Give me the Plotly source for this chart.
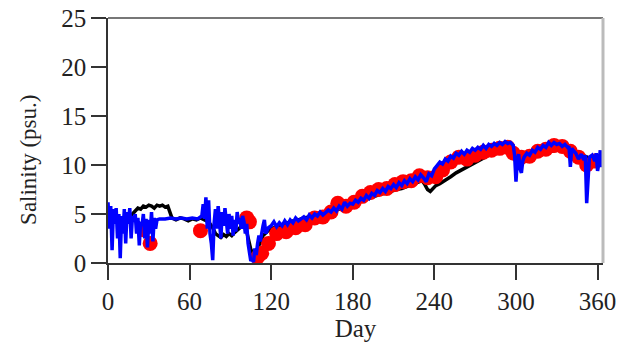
import plotly.graph_objects as go

# ---- Data ----
black_day = [0, 3, 6, 9, 12, 15, 18, 20, 22, 24, 26, 28, 30, 32, 34, 36, 38, 40, 42, 44, 45, 47,
             50, 53, 56, 59, 62, 65, 68, 71, 74, 77, 79, 81, 83, 85, 87, 89, 91, 93, 95, 97, 99, 101,
             103, 105, 107, 109, 111, 114, 117, 120, 124, 128, 132, 136, 140, 144, 148, 152, 156,
             160, 164, 168, 172, 176, 180, 184, 188, 192, 196, 200, 204, 208, 212, 216, 220, 224,
             228, 231, 233, 235, 237, 239, 241, 244, 248, 252, 256, 260, 264, 268, 272, 276, 280,
             284, 288, 292, 295, 298, 300, 302, 304, 307, 310, 314, 318, 322, 326, 330, 334, 338,
             342, 346, 350, 354, 358, 361, 364]
black_val = [5.0, 4.6, 4.8, 4.4, 4.7, 4.5, 5.0, 5.3, 5.6, 5.5, 5.8, 5.7, 5.9, 5.8, 5.6, 5.9, 5.8, 5.9, 5.7, 5.8, 5.3, 4.6,
             4.4, 4.6, 4.5, 4.3, 4.5, 4.4, 4.6, 4.4, 4.2, 3.6, 3.0, 2.8, 2.6, 2.9, 2.7, 3.0, 2.8, 3.1, 3.3, 3.6, 4.0, 3.8,
             2.6, 1.4, 0.8, 1.2, 1.8, 2.8, 3.2, 3.5, 3.7, 3.9, 4.1, 4.3, 4.4, 4.6, 4.7, 4.8, 4.9,
             5.1, 5.2, 5.4, 5.6, 5.7, 5.9, 6.2, 6.4, 6.6, 6.8, 7.0, 7.1, 7.3, 7.5, 7.6, 7.8, 8.0,
             8.2, 8.4, 8.0, 7.5, 7.3, 7.6, 7.9, 8.1, 8.4, 8.8, 9.2, 9.5, 9.8, 10.2, 10.4, 10.7, 11.0,
             11.2, 11.4, 11.6, 11.7, 11.4, 10.2, 10.0, 10.5, 10.7, 10.9, 11.0, 11.1, 11.3, 11.4, 11.5, 11.6, 11.5,
             11.5, 11.2, 10.9, 10.7, 10.5, 10.3, 10.2]

red_day = [26, 31, 68, 102, 104, 110, 113, 118, 124, 131, 138, 145, 152, 158, 164, 169, 175, 181,
           187, 193, 199, 205, 211, 217, 223, 229, 235, 241, 246, 252, 258, 264, 270, 276, 282,
           288, 294, 298, 304, 310, 316, 322, 328, 334, 340, 346, 352, 358]
red_val = [3.4, 2.0, 3.3, 4.6, 4.2, 0.6, 1.0, 2.0, 3.0, 3.2, 3.6, 3.9, 4.6, 4.7, 5.2, 6.1, 5.8, 6.2,
           6.8, 7.2, 7.5, 7.6, 8.0, 8.3, 8.4, 8.9, 8.7, 8.8, 9.5, 10.3, 10.8, 10.6, 11.0, 11.3, 11.5,
           11.7, 11.8, 11.2, 10.8, 10.9, 11.4, 11.6, 12.0, 11.9, 11.4, 10.8, 10.0, 10.4]

blue_day = [0, 1, 2, 3, 4, 5, 6, 7, 8, 9, 10, 11, 12, 13, 14, 15, 16, 17, 18, 19, 20, 21, 22, 23,
            24, 25, 26, 27, 28, 29, 30, 31, 32, 33, 34, 35, 36, 38, 42, 46, 50, 54, 58, 62, 66,
            69, 70, 71, 72, 73, 74, 75, 76, 77, 78, 79, 80, 81, 82, 83, 84, 85, 86, 87, 88, 89,
            90, 91, 92, 93, 94, 95, 96, 97, 98, 99, 100, 101, 102, 103, 104, 105, 106, 107, 108,
            109, 110, 111, 112, 113, 114, 115, 116, 118, 120, 122, 124, 126, 128, 130, 132, 134,
            136, 138, 140, 142, 144, 146, 148, 150, 152, 154, 156, 158, 160, 162, 164, 166, 168,
            170, 172, 174, 176, 178, 180, 182, 184, 186, 188, 190, 192, 194, 196, 198, 200, 202,
            204, 206, 208, 210, 212, 214, 216, 218, 220, 222, 224, 226, 228, 230, 232, 234, 236,
            238, 240, 242, 244, 246, 248, 250, 252, 254, 256, 258, 260, 262, 264, 266, 268, 270,
            272, 274, 276, 278, 280, 282, 284, 286, 288, 290, 292, 294, 296, 298, 299, 300, 301,
            302, 303, 304, 305, 306, 308, 310, 312, 314, 316, 318, 320, 322, 324, 326, 328, 330,
            332, 334, 336, 338, 339, 340, 341, 342, 344, 346, 348, 350, 351, 352, 354, 356, 358,
            359, 360, 361, 362, 363, 364]
blue_val = [6.2, 3.5, 5.8, 1.3, 5.5, 4.0, 5.6, 2.5, 5.0, 0.5, 4.8, 3.0, 5.5, 2.0, 5.2, 4.0, 5.6, 2.5, 4.8, 4.2, 5.0, 3.0, 4.6, 1.8,
            4.2, 3.8, 5.0, 2.5, 4.5, 1.6, 4.4, 3.0, 5.2, 2.2, 4.6, 3.5, 4.4, 4.5, 4.5, 4.6, 4.5, 4.6, 4.5, 4.6, 4.5,
            4.8, 6.0, 4.5, 6.7, 3.5, 6.4, 3.0, 2.0, 0.3, 4.0, 5.5, 3.5, 5.8, 4.2, 2.5, 5.2, 3.8, 5.6, 4.0, 3.0, 5.0,
            3.5, 4.8, 2.8, 4.4, 3.2, 5.2, 4.0, 4.6, 3.5, 4.8, 4.2, 3.0, 4.0, 2.0, 1.0, 0.2, 0.4, 0.1, 1.5,
            0.8, 2.0, 2.8, 2.2, 3.2, 3.8, 4.4, 3.0, 3.6, 3.8, 4.2, 3.7, 4.1, 3.8, 4.3, 3.9, 4.4,
            4.1, 4.6, 4.3, 4.5, 4.7, 4.4, 4.9, 4.6, 5.0, 4.8, 5.2, 4.9, 5.1, 5.4, 5.2, 5.6, 5.3,
            5.8, 5.5, 6.2, 5.8, 6.1, 6.0, 6.4, 6.2, 6.6, 6.4, 6.9, 6.6, 7.1, 6.9, 7.4, 7.2, 7.6,
            7.3, 7.8, 7.6, 8.0, 7.7, 8.2, 7.9, 8.4, 8.1, 8.6, 8.3, 8.8, 8.5, 9.0, 8.7, 8.3, 9.1,
            8.9, 9.6, 9.9, 10.3, 10.1, 10.6, 10.4, 10.9, 10.7, 11.2, 11.0, 11.4, 11.1, 11.5, 11.3, 11.7, 11.5,
            11.8, 11.6, 12.0, 11.7, 12.1, 11.9, 12.2, 12.0, 12.3, 12.1, 12.4, 12.2, 12.3, 12.0, 11.0, 8.3, 10.5,
            11.1, 9.6, 9.2, 10.4, 10.8, 11.2, 11.0, 11.5, 11.3, 11.8, 11.6, 12.0, 11.8, 12.3, 12.0, 12.3, 12.1,
            12.2, 11.9, 12.1, 11.8, 11.9, 9.8, 11.7, 11.5, 11.2, 10.6, 11.1, 10.5, 11.0, 6.1, 10.8, 11.0, 10.4, 11.2,
            9.4, 10.2, 11.5, 9.8, 11.0, 10.2]

x_ticks = [0, 60, 120, 180, 240, 300, 360]
y_ticks = [0, 5, 10, 15, 20, 25]

FONT = "Times New Roman, Liberation Serif, serif"

fig = go.Figure()
fig.add_trace(go.Scatter(x=black_day, y=black_val, mode="lines",
                         line=dict(color="black", width=3.5), showlegend=False))
fig.add_trace(go.Scatter(x=red_day, y=red_val, mode="markers",
                         marker=dict(color="#ff0000", size=15, line=dict(width=0)),
                         showlegend=False))
fig.add_trace(go.Scatter(x=blue_day, y=blue_val, mode="lines",
                         line=dict(color="#0000ff", width=3.5), showlegend=False))

axis_common = dict(showgrid=False, zeroline=False, ticks="outside", ticklen=15,
                   tickwidth=1.5, tickcolor="#333333", showline=True, linecolor="#333333",
                   linewidth=1.5, automargin=False,
                   tickfont=dict(family=FONT, size=25, color="#222222"))

fig.update_layout(
    width=622, height=352,
    margin=dict(l=108, r=19, t=18, b=89),
    paper_bgcolor="white", plot_bgcolor="white",
    xaxis=dict(range=[0, 364], tickvals=x_ticks, ticktext=[str(v) for v in x_ticks],
               title=dict(text="Day", font=dict(family=FONT, size=25, color="#222222"),
                          standoff=4),
               **axis_common),
    yaxis=dict(range=[0, 25], tickvals=y_ticks, ticktext=[str(v) for v in y_ticks],
               **axis_common),
    shapes=[
        dict(type="line", xref="paper", yref="paper", x0=0, x1=1, y0=1, y1=1,
             line=dict(color="#777777", width=2)),
        dict(type="line", xref="paper", yref="paper", x0=1, x1=1, y0=0, y1=1,
             line=dict(color="#bbbbbb", width=3)),
    ],
    annotations=[
        dict(text="Salinity (psu.)", textangle=-90, xref="paper", yref="paper",
             x=-0.162, y=0.42, showarrow=False, xanchor="center", yanchor="middle",
             font=dict(family=FONT, size=23, color="#222222")),
    ],
)

# remove the default page margin so the figure sits at the window's top-left corner
fig.write_html("out.html", config={"displayModeBar": False},
               post_script="document.body.style.margin='0';")
